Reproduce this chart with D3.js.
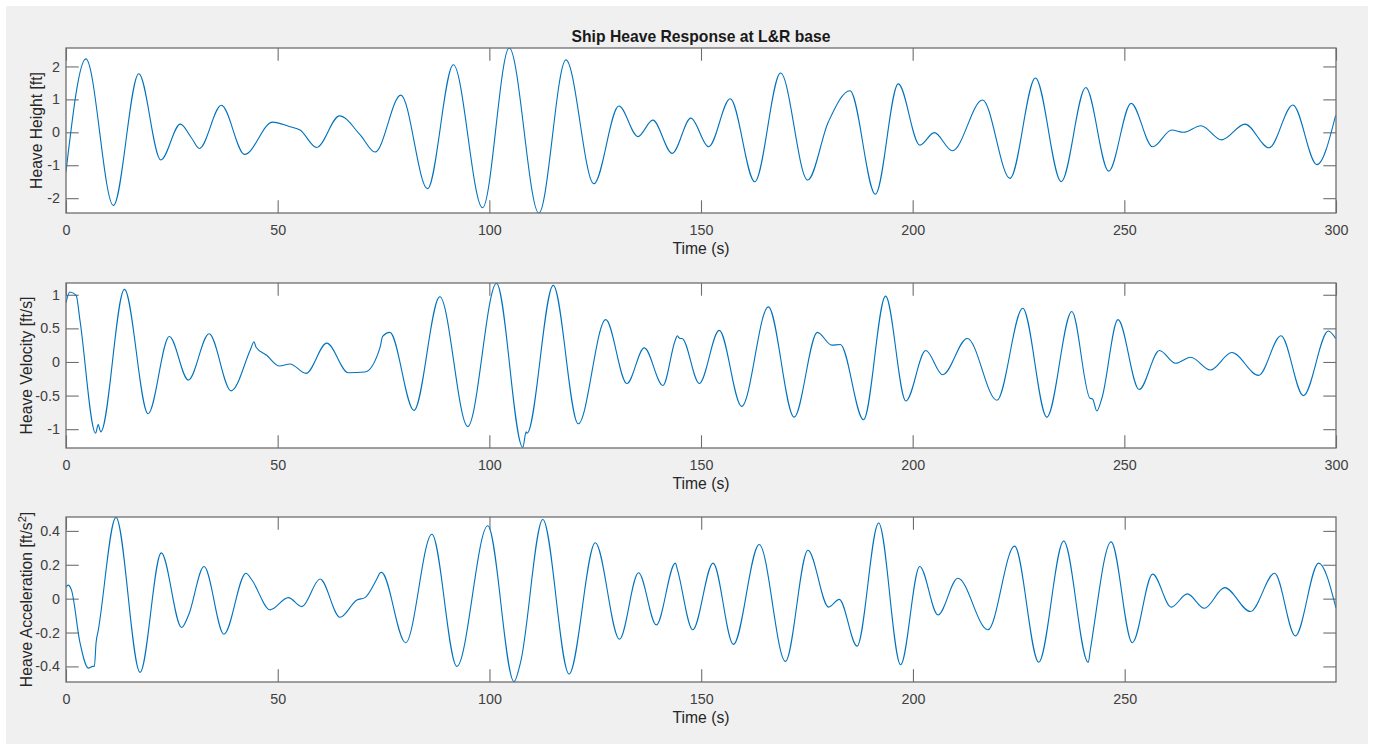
<!DOCTYPE html>
<html>
<head>
<meta charset="utf-8">
<script src="https://cdn.jsdelivr.net/npm/d3@7"></script>
<style>
  body { margin: 0; background: #ffffff; }
  svg { display: block; font-family: "Liberation Sans", Arial, Helvetica, sans-serif; }
  .tick text { fill: #404040; font-size: 14.3px; }
  .tick line { stroke: #6e6e6e; stroke-width: 1.1; }
</style>
</head>
<body>
<div id="chart"></div>
<script>
// heave height [ft] (turning points and kinks)
var heightT = [0, 4.7, 11.2, 17.2, 22.4, 27.0, 29.7, 31.5, 36.7, 42.2, 48.8, 52.9, 55.3, 59.2, 64.6, 69.5, 73.0,
  79.1, 85.4, 91.5, 98.4, 104.7, 111.7, 118.1, 124.7, 130.6, 135.1, 138.6, 143.2, 147.6, 151.8, 156.9, 162.7,
  168.8, 175.2, 180.1, 185.2, 191.2, 196.6, 201.7, 205.1, 209.4, 216.5, 223.0, 229.0, 235.1, 240.9, 246.3,
  251.6, 256.7, 261.2, 264.0, 268.1, 273.0, 278.5, 284.2, 289.8, 295.5, 299.9];
var heightV = [-1.2, 2.23, -2.22, 1.78, -0.84, 0.25, -0.18, -0.49, 0.82, -0.67, 0.31, 0.17, 0.07, -0.46, 0.50, -0.08, -0.60,
  1.13, -1.71, 2.05, -2.29, 2.56, -2.45, 2.20, -1.56, 0.80, -0.13, 0.37, -0.64, 0.43, -0.44, 1.02, -1.50,
  1.80, -1.45, 0.32, 1.26, -1.88, 1.47, -0.39, -0.01, -0.56, 0.98, -1.40, 1.65, -1.50, 1.36, -1.18,
  0.88, -0.44, 0.07, 0.0, 0.20, -0.23, 0.25, -0.47, 0.83, -0.98, 0.51];

// heave velocity [ft/s]
var velT = [0, 0.9, 2.4, 3.3, 7.0, 7.6, 8.2, 13.8, 19.4, 24.4, 28.9, 33.8, 39.0, 43.6, 44.4, 44.9, 47.4, 50.4, 52.9,
  56.7, 61.6, 66.7, 70.6, 74.2, 74.8, 76.5, 82.2, 88.3, 94.9, 101.7, 107.9, 108.7, 108.9, 115.1, 121.0, 127.5,
  132.5, 136.6, 141.0, 143.9, 144.4, 145.0, 145.5, 149.6, 154.3, 159.6, 165.9, 172.0, 177.5, 180.9, 182.9,
  188.4, 193.6, 198.4, 203.1, 207.1, 212.9, 219.9, 226.0, 231.7, 237.6, 241.9, 242.5, 243.5, 244.7, 248.5,
  253.5, 258.3, 262.1, 265.7, 270.3, 275.4, 281.7, 287.0, 292.3, 298.2, 299.9];
var velV = [0.88, 1.04, 0.99, 0.62, -1.06, -0.93, -1.04, 1.08, -0.77, 0.38, -0.27, 0.42, -0.43, 0.19, 0.30, 0.22, 0.10, -0.06, -0.03,
  -0.17, 0.28, -0.16, -0.15, 0.22, 0.38, 0.44, -0.72, 0.97, -0.96, 1.17, -1.27, -1.04, -1.06, 1.14, -0.92, 0.63,
  -0.32, 0.21, -0.35, 0.32, 0.39, 0.35, 0.35, -0.32, 0.47, -0.66, 0.82, -0.82, 0.44, 0.25, 0.26,
  -0.86, 0.98, -0.58, 0.17, -0.19, 0.35, -0.57, 0.80, -0.82, 0.75, -0.54, -0.55, -0.73, -0.54, 0.63,
  -0.41, 0.17, -0.02, 0.07, -0.12, 0.14, -0.20, 0.39, -0.50, 0.46, 0.35];

// heave acceleration [ft/s^2]
var accT = [0, 0.5, 1.3, 3.3, 5.3, 6.3, 6.7, 7.1, 7.6, 11.8, 17.5, 22.5, 27.3, 28.9, 32.6, 37.3, 42.5, 43.9, 48.2,
  52.5, 55.7, 60.0, 64.7, 68.7, 70.6, 73.4, 74.2, 74.5, 80.2, 86.4, 92.3, 99.6, 105.8, 107.3, 112.6, 118.8,
  125.0, 130.7, 135.2, 139.4, 143.9, 144.4, 148.0, 152.8, 157.6, 163.7, 169.9, 175.2, 180.1, 182.6, 186.8,
  191.9, 197.1, 201.6, 205.9, 210.6, 217.7, 224.0, 229.7, 235.6, 241.4, 241.9, 246.8, 251.8, 256.6, 261.0,
  264.8, 268.8, 273.6, 279.7, 285.4, 290.3, 295.8, 299.9];
var accV = [0.067, 0.08, 0.05, -0.26, -0.41, -0.40, -0.40, -0.26, -0.19, 0.48, -0.435, 0.27, -0.17, -0.10, 0.19, -0.21, 0.15, 0.11, -0.066,
  0.006, -0.047, 0.116, -0.11, -0.008, 0.006, 0.116, 0.153, 0.155, -0.26, 0.38, -0.40, 0.43, -0.49, -0.38, 0.467, -0.445,
  0.33, -0.24, 0.153, -0.155, 0.21, 0.17, -0.184, 0.21, -0.27, 0.32, -0.37, 0.286, -0.05, -0.004, -0.28,
  0.447, -0.39, 0.19, -0.096, 0.12, -0.184, 0.31, -0.375, 0.34, -0.376, -0.30, 0.335, -0.26, 0.145, -0.05,
  0.028, -0.057, 0.065, -0.076, 0.15, -0.22, 0.21, -0.056];

var timeTicks = [0, 50, 100, 150, 200, 250, 300];
var heightTicks = [-2, -1, 0, 1, 2];
var velTicks = [-1, -0.5, 0, 0.5, 1];
var accTicks = [-0.4, -0.2, 0, 0.2, 0.4];

var svgWidth = 1376;
var svgHeight = 744;
var plotLeft = 66;
var plotRight = 1336;
var plotH = 165;
var tickLen = 12.7;

var svg = d3.select("#chart")
  .append("svg")
  .attr("width", svgWidth)
  .attr("height", svgHeight);

// figure background (gray panel with a thin white rim)
svg.append("rect")
  .attr("x", 6).attr("y", 6)
  .attr("width", 1362).attr("height", 738)
  .attr("fill", "#f0f0f0");

var panels = [
  { top: 48, t: heightT, v: heightV, ylim: [-2.45, 2.56], yticks: heightTicks, xmax: 300, label: "Heave Height [ft]", labelX: 42 },
  { top: 283, t: velT, v: velV, ylim: [-1.28, 1.175], yticks: velTicks, xmax: 300, label: "Heave Velocity [ft/s]", labelX: 32 },
  { top: 517, t: accT, v: accV, ylim: [-0.492, 0.482], yticks: accTicks, xmax: 299.9, label: "Heave Acceleration [ft/s", labelX: 32, sup: true }
];

// matlab style labels: plain hyphen for negatives
var fmt = d => String(d);

panels.forEach(function(p, i) {
  var g = svg.append("g").attr("transform", `translate(0, ${p.top})`);

  var x = d3.scaleLinear().domain([0, p.xmax]).range([plotLeft, plotRight]);
  var y = d3.scaleLinear().domain(p.ylim).range([plotH, 0]);
  var xt = timeTicks.filter(d => d <= p.xmax);

  g.append("rect")
    .attr("x", plotLeft).attr("y", 0)
    .attr("width", plotRight - plotLeft).attr("height", plotH)
    .attr("fill", "#ffffff");

  g.append("clipPath").attr("id", "clip" + i)
    .append("rect")
    .attr("x", plotLeft).attr("y", 0)
    .attr("width", plotRight - plotLeft).attr("height", plotH);

  // inward ticks on all four sides, like a boxed matlab axes
  var bottom = g.append("g")
    .attr("transform", `translate(0, ${plotH})`)
    .call(d3.axisBottom(x).tickValues(xt).tickSizeInner(-tickLen).tickSizeOuter(0).tickPadding(12).tickFormat(fmt));
  var top = g.append("g")
    .call(d3.axisTop(x).tickValues(xt).tickSizeInner(-tickLen).tickSizeOuter(0).tickFormat(""));
  var left = g.append("g")
    .attr("transform", `translate(${plotLeft}, 0)`)
    .call(d3.axisLeft(y).tickValues(p.yticks).tickSizeInner(-tickLen).tickSizeOuter(0).tickPadding(6).tickFormat(fmt));
  var right = g.append("g")
    .attr("transform", `translate(${plotRight}, 0)`)
    .call(d3.axisRight(y).tickValues(p.yticks).tickSizeInner(-tickLen).tickSizeOuter(0).tickFormat(""));

  [bottom, top, left, right].forEach(a => a.select(".domain").remove());
  g.selectAll(".tick text").attr("font-family", null).attr("font-size", null);

  var pts = p.t.map((t, k) => [t, p.v[k]]);
  var line = d3.line()
    .x(d => x(d[0]))
    .y(d => y(d[1]))
    .curve(d3.curveMonotoneX);

  g.append("path")
    .datum(pts)
    .attr("clip-path", `url(#clip${i})`)
    .attr("fill", "none")
    .attr("stroke", "#0072BD")
    .attr("stroke-width", 1.1)
    .attr("d", line);

  g.append("rect")
    .attr("x", plotLeft).attr("y", 0)
    .attr("width", plotRight - plotLeft).attr("height", plotH)
    .attr("fill", "none")
    .attr("stroke", "#6e6e6e")
    .attr("stroke-width", 1.3);

  g.append("text")
    .attr("x", (plotLeft + plotRight) / 2)
    .attr("y", plotH + 41)
    .attr("text-anchor", "middle")
    .attr("fill", "#262626")
    .attr("font-size", 15.7)
    .text("Time (s)");

  var yl = g.append("text")
    .attr("transform", `translate(${p.labelX}, ${plotH / 2}) rotate(-90)`)
    .attr("text-anchor", "middle")
    .attr("fill", "#262626")
    .attr("font-size", 15.7);
  yl.append("tspan").text(p.label);
  if (p.sup) {
    yl.append("tspan").attr("dy", -6).attr("font-size", 11).text("2");
    yl.append("tspan").attr("dy", 6).text("]");
  }
});

svg.append("text")
  .attr("x", 701)
  .attr("y", 42)
  .attr("text-anchor", "middle")
  .attr("font-weight", "bold")
  .attr("font-size", 15.7)
  .attr("fill", "#1a1a1a")
  .text("Ship Heave Response at L&R base");
</script>
</body>
</html>
